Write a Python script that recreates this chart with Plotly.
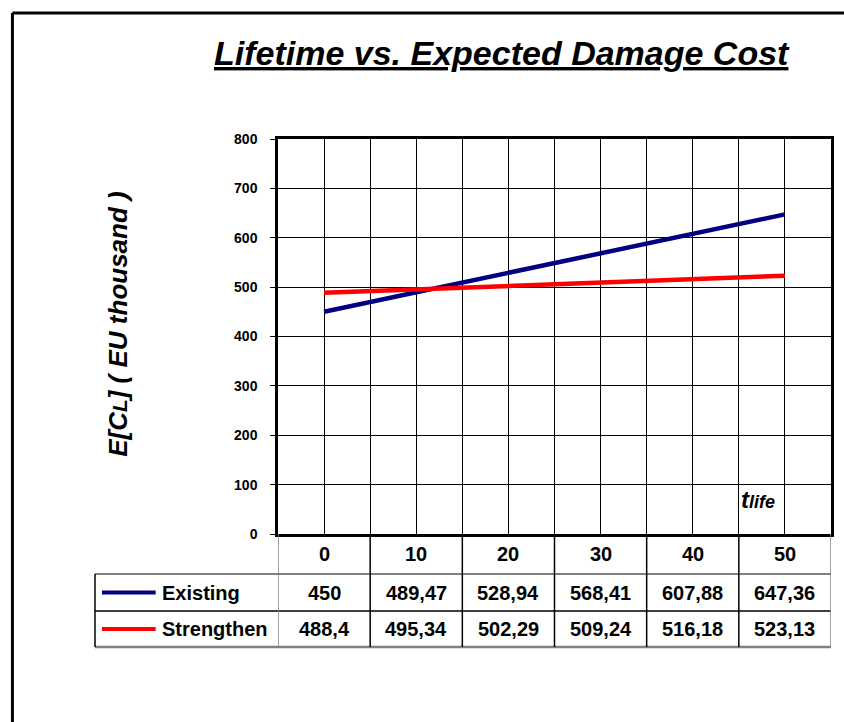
import plotly.graph_objects as go

# ---- data ----
years = [0, 10, 20, 30, 40, 50]
existing = [450, 489.47, 528.94, 568.41, 607.88, 647.36]
strengthen = [488.4, 495.34, 502.29, 509.24, 516.18, 523.13]
series_names = ["Existing", "Strengthen"]
series_colors = ["#000080", "#FF0000"]
y_ticks = [0, 100, 200, 300, 400, 500, 600, 700, 800]

FONT = "Arial, 'Liberation Sans', sans-serif"

W, H = 844, 722
L, R, T, B = 278, 834, 139, 534  # plot area in window px
pw, ph = R - L, B - T


def px_x(p):
    return (p - L) / pw


def px_y(p):
    return 1 - (p - T) / ph


def fmt(v):
    return f"{v:g}".replace(".", ",")


fig = go.Figure()
for name, vals, col in zip(series_names, [existing, strengthen], series_colors):
    fig.add_trace(go.Scatter(x=years, y=vals, mode="lines", name=name,
                             line=dict(color=col, width=4.5), showlegend=False))

step = years[1] - years[0]
bounds = [years[0] - step / 2 + i * step / 2 for i in range(2 * len(years) + 1)]
col_bounds = [years[0] - step / 2 + i * step for i in range(len(years) + 1)]

shapes = []
annotations = []

# outer chart border (only left & top visible in window)
shapes.append(dict(type="line", xref="paper", yref="paper", x0=px_x(11), x1=px_x(900),
                   y0=px_y(13), y1=px_y(13), line=dict(color="black", width=3)))
shapes.append(dict(type="line", xref="paper", yref="paper", x0=px_x(11), x1=px_x(11),
                   y0=px_y(13), y1=px_y(800), line=dict(color="black", width=3)))

# table rows
row_y = [534, 574, 611, 647]
tbl_left = 94
shapes.append(dict(type="line", xref="paper", yref="paper", x0=px_x(tbl_left), x1=1,
                   y0=px_y(row_y[1]), y1=px_y(row_y[1]), line=dict(color="#808080", width=2)))
shapes.append(dict(type="line", xref="paper", yref="paper", x0=px_x(tbl_left), x1=1,
                   y0=px_y(row_y[2]), y1=px_y(row_y[2]), line=dict(color="black", width=1.5)))
shapes.append(dict(type="line", xref="paper", yref="paper", x0=px_x(tbl_left), x1=1,
                   y0=px_y(row_y[3]), y1=px_y(row_y[3]), line=dict(color="#808080", width=2.5)))
shapes.append(dict(type="line", xref="paper", yref="paper", x0=px_x(tbl_left), x1=px_x(tbl_left),
                   y0=px_y(row_y[1]), y1=px_y(row_y[3]), line=dict(color="black", width=1.5)))
for i, xb in enumerate(col_bounds):
    edge = i in (0, len(col_bounds) - 1)
    shapes.append(dict(type="line", xref="x", yref="paper", x0=xb, x1=xb,
                       y0=px_y(row_y[0]), y1=px_y(row_y[3]),
                       line=dict(color="#808080" if edge else "black", width=1.5)))

TXT = dict(showarrow=False, xanchor="center", yanchor="middle")

# header row labels
for yr in years:
    annotations.append(dict(x=yr, y=px_y((row_y[0] + row_y[1]) / 2), xref="x", yref="paper",
                            text=f"<b>{yr}</b>",
                            font=dict(family=FONT, size=20, color="black"), **TXT))

# data rows
for r, (name, vals, col) in enumerate(zip(series_names, [existing, strengthen], series_colors)):
    yc = (row_y[r + 1] + row_y[r + 2]) / 2
    shapes.append(dict(type="line", xref="paper", yref="paper", x0=px_x(101), x1=px_x(155),
                       y0=px_y(yc), y1=px_y(yc), line=dict(color=col, width=4)))
    annotations.append(dict(x=px_x(159), y=px_y(yc), xref="paper", yref="paper",
                            text=f"<b>{name}</b>", showarrow=False, xanchor="left", yanchor="middle",
                            font=dict(family=FONT, size=20, color="black")))
    for yr, v in zip(years, vals):
        annotations.append(dict(x=yr, y=px_y(yc), xref="x", yref="paper",
                                text=f"<b>{fmt(v)}</b>",
                                font=dict(family=FONT, size=20, color="black"), **TXT))

# title
annotations.append(dict(x=px_x(503), y=px_y(53), xref="paper", yref="paper",
                        text="<b><i><u>Lifetime vs. Expected Damage Cost</u></i></b>",
                        font=dict(family=FONT, size=34, color="black"), **TXT))
# y title
annotations.append(dict(x=px_x(117), y=px_y(324), xref="paper", yref="paper",
                        text="<b><i>E[C<span style='font-size:21px'>L</span>] ( EU thousand )</i></b>",
                        textangle=-90,
                        font=dict(family=FONT, size=26, color="black"), **TXT))
# t_life label
annotations.append(dict(x=px_x(742), y=px_y(499), xref="paper", yref="paper",
                        text="<b><i>t<span style='font-size:18px'>life</span></i></b>",
                        showarrow=False, xanchor="left", yanchor="middle",
                        font=dict(family=FONT, size=24, color="black")))

fig.update_layout(
    width=W, height=H,
    margin=dict(l=L, r=W - R, t=T, b=H - B, pad=0),
    paper_bgcolor="white", plot_bgcolor="white",
    font=dict(family=FONT, color="black"),
    shapes=shapes, annotations=annotations,
    xaxis=dict(range=[bounds[0], bounds[-1]], tickmode="array", tickvals=bounds,
               showticklabels=False, ticks="", showgrid=True, gridcolor="black", gridwidth=1,
               showline=True, mirror=True, linecolor="black", linewidth=2.5, zeroline=False,
               fixedrange=True),
    yaxis=dict(range=[0, 800], tickmode="array", tickvals=y_ticks,
               ticktext=[f"<b>{t}</b>" for t in y_ticks],
               tickfont=dict(family=FONT, size=14, color="black"),
               ticks="outside", ticklen=5, tickcolor="black", tickwidth=1,
               ticklabelstandoff=10,
               showgrid=True, gridcolor="black", gridwidth=1,
               showline=True, mirror=True, linecolor="black", linewidth=2.5, zeroline=False,
               fixedrange=True),
    showlegend=False,
)

fig.write_html("out.html", config={"displayModeBar": False},
               post_script="document.body.style.margin='0px';document.body.style.overflow='hidden';")
